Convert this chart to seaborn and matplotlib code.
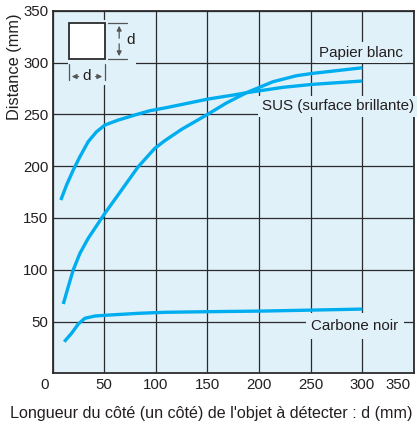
import matplotlib
matplotlib.use("Agg")
import matplotlib.pyplot as plt
import matplotlib.patches as mpatches
import matplotlib.transforms as mtransforms
import pandas as pd
import seaborn as sns

# Detection distance vs. side length of the target, for three materials
sus_x = [8, 13.6, 20, 26.5, 34.5, 42.6, 50.7, 63.6, 82.9, 94.2, 108.7, 126.4,
         150.6, 174.8, 187.7, 223.1, 252.1, 300]
sus_y = [167.3, 181.8, 196.2, 209.1, 223.6, 233.2, 239.7, 244.5, 250.3, 253.5, 256.2, 259.8,
         264.8, 268.6, 270.9, 276.1, 279, 282.2]

papier_x = [10.4, 15.2, 20, 26.5, 34.5, 50.7, 66.8, 82.9, 99, 108.7, 124.9,
            150.6, 168.4, 187.7, 213.4, 236.1, 252.1, 300]
papier_y = [66.9, 83.6, 99.7, 115.8, 130.3, 154.5, 176.9, 199.4, 217.2, 224.6, 235.5,
            250.3, 261, 270.9, 281.5, 287.3, 289.6, 295]

carbone_x = [11.3, 18.4, 24.9, 31.3, 41, 50.7, 82.9, 108.7, 152, 204, 250, 300]
carbone_y = [30.5, 38.6, 47.6, 53.1, 55.3, 56, 57.9, 58.9, 59.5, 60.1, 61, 62]

series_names = ["SUS (surface brillante)", "Papier blanc", "Carbone noir"]

x_ticks = [0, 50, 100, 150, 200, 250, 300, 350]
y_ticks = [50, 100, 150, 200, 250, 300, 350]

frames = []
for name, xs, ys in zip(series_names, [sus_x, papier_x, carbone_x], [sus_y, papier_y, carbone_y]):
    frames.append(pd.DataFrame({"d": xs, "dist": ys, "mat": name}))
df = pd.concat(frames, ignore_index=True)

BG = "#e0f1fa"
LINE = "#00aeef"
GRID = "#2b2b2b"
TXT = "#231f20"

sns.set_theme(style="white")
plt.rcParams["font.family"] = ["Liberation Sans", "DejaVu Sans"]

fig = plt.figure(figsize=(4.17, 4.26), dpi=100)
ax = fig.add_axes([0.126, 0.1237, 0.867, 0.851])
ax.set_facecolor(BG)

sns.lineplot(data=df, x="d", y="dist", hue="mat", palette=[LINE] * 3,
             sort=False, estimator=None, legend=False, linewidth=2.4,
             solid_capstyle="butt", solid_joinstyle="round", ax=ax, zorder=5)

ax.set_xlim(0, 350)
ax.set_ylim(0, 350)
ax.set_xticks(x_ticks)
ax.set_yticks(y_ticks)
ax.set_xticklabels([str(v) for v in x_ticks])
ax.set_yticklabels([str(v) for v in y_ticks])
ax.tick_params(length=0, labelsize=10.8, colors=TXT)
ax.tick_params(axis="x", pad=3.5)
ax.tick_params(axis="y", pad=3)
ax.grid(True, color=GRID, linewidth=0.9)
ax.set_axisbelow(True)
for sp in ax.spines.values():
    sp.set_color(GRID)
    sp.set_linewidth(1.3)

# first and last x tick labels sit inside the figure edges
xlabels = ax.get_xticklabels()
xlabels[0].set_horizontalalignment("right")
xlabels[0].set_transform(xlabels[0].get_transform() +
                         mtransforms.ScaledTranslation(-4 / 100, 0, fig.dpi_scale_trans))
xlabels[-1].set_horizontalalignment("right")
xlabels[-1].set_transform(xlabels[-1].get_transform() +
                          mtransforms.ScaledTranslation(-3 / 100, 0, fig.dpi_scale_trans))

ax.set_ylabel("Distance (mm)", fontsize=11.8, color=TXT)
ax.yaxis.set_label_coords(-0.085, 0.845)
ax.set_xlabel("Longueur du côté (un côté) de l'objet à détecter : d (mm)", fontsize=11.6, color=TXT)
ax.xaxis.set_label_coords(0.439, -0.09)

# Curve labels, masking the grid behind them
lab_box = dict(facecolor=BG, edgecolor="none", pad=2.5)
ax.text(298.3, 309.5, "Papier blanc", fontsize=10.9, color=TXT, ha="center", va="center", bbox=lab_box, zorder=4)
ax.text(276, 258, "SUS (surface brillante)", fontsize=10.9, color=TXT, ha="center", va="center", bbox=lab_box, zorder=4)
ax.text(292.7, 45.7, "Carbone noir", fontsize=10.9, color=TXT, ha="center", va="center",
        bbox=dict(facecolor=BG, edgecolor="none", pad=4), zorder=4)

# Icon of the square target with its side dimension d
ax.add_patch(mpatches.Rectangle((14.5, 278), 66, 63, facecolor=BG, edgecolor="none", zorder=2))
ax.add_patch(mpatches.Rectangle((15.9, 303.5), 34.9, 34.7, facecolor="white", edgecolor=GRID, linewidth=1.3, zorder=3))
dim_c = "#555555"
# vertical dimension
ax.plot([53.5, 72.5], [338.2, 338.2], color=dim_c, lw=0.9, zorder=3)
ax.plot([53.5, 72.5], [303.5, 303.5], color=dim_c, lw=0.9, zorder=3)
ax.annotate("", xy=(64.5, 338.2), xytext=(64.5, 320.8),
            arrowprops=dict(arrowstyle="-|>", color=dim_c, lw=0.9, mutation_scale=7), zorder=3)
ax.annotate("", xy=(64.5, 303.5), xytext=(64.5, 320.8),
            arrowprops=dict(arrowstyle="-|>", color=dim_c, lw=0.9, mutation_scale=7), zorder=3)
ax.text(71, 321.5, "d", fontsize=11, color=TXT, ha="left", va="center", zorder=3)
# horizontal dimension
ax.plot([15.9, 15.9], [283.5, 298.5], color=dim_c, lw=0.9, zorder=3)
ax.plot([50.8, 50.8], [283.5, 298.5], color=dim_c, lw=0.9, zorder=3)
ax.annotate("", xy=(15.9, 286.5), xytext=(28, 286.5),
            arrowprops=dict(arrowstyle="-|>", color=dim_c, lw=0.9, mutation_scale=7), zorder=3)
ax.annotate("", xy=(50.8, 286.5), xytext=(39, 286.5),
            arrowprops=dict(arrowstyle="-|>", color=dim_c, lw=0.9, mutation_scale=7), zorder=3)
ax.text(33.4, 287, "d", fontsize=11, color=TXT, ha="center", va="center", zorder=3)

fig.savefig("out.png", dpi=100, facecolor="white")
